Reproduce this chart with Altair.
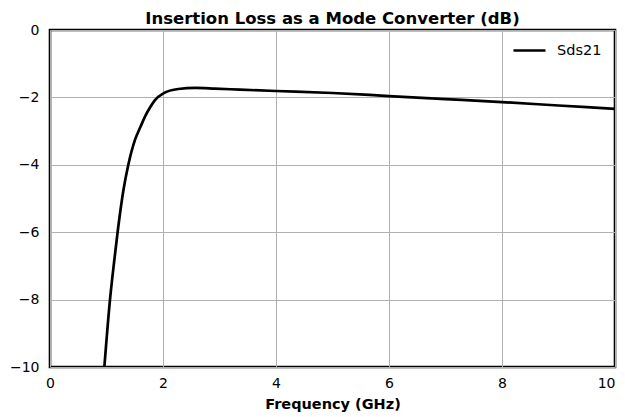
import altair as alt
import pandas as pd

freq = [0.962, 1.062, 1.13, 1.198, 1.3, 1.386, 1.504, 1.6, 1.681, 1.77, 1.858, 2.006,
        2.27, 2.57, 2.92, 3.36, 4.0, 5.0, 6.0, 7.0, 8.0, 9.0, 10.0]
sds21 = [-10.0, -8.0, -6.95, -5.98, -4.75, -4.0, -3.26, -2.88, -2.57, -2.3, -2.08, -1.88,
         -1.75, -1.72, -1.74, -1.77, -1.81, -1.87, -1.96, -2.05, -2.14, -2.24, -2.34]
series = ["Sds21"] * len(freq)

df = pd.DataFrame({"freq": freq, "val": sds21, "series": series})

chart = alt.Chart(df).mark_line(strokeWidth=2.7, interpolate="monotone", clip=True).encode(
    x=alt.X("freq:Q", scale=alt.Scale(domain=[0, 10], nice=False),
            axis=alt.Axis(title="Frequency (GHz)", values=[0, 2, 4, 6, 8, 10],
                          labelFlush=False,
                          labelAlign=alt.ExprRef("datum.value == 10 ? 'right' : 'center'"))),
    y=alt.Y("val:Q", scale=alt.Scale(domain=[-10, 0], nice=False),
            axis=alt.Axis(title=None, values=[-10, -8, -6, -4, -2, 0], labelPadding=11)),
    stroke=alt.Stroke("series:N", scale=alt.Scale(range=["black"]),
                      legend=alt.Legend(title=None, orient="none", legendX=462, legendY=3,
                                        symbolType="stroke",
                                        symbolStrokeWidth=2.7, symbolSize=1024,
                                        labelFontSize=14.5, labelFont="DejaVu Sans",
                                        labelOffset=10, labelColor="#000")),
).properties(
    width=565, height=337,
    title=alt.TitleParams("Insertion Loss as a Mode Converter (dB)", fontSize=16.5,
                          font="DejaVu Sans", fontWeight="bold", offset=-4, color="#000"),
    autosize=alt.AutoSizeParams(type="none"),
    padding={"left": 42, "top": 22, "right": 2, "bottom": 50},
).configure_view(
    stroke="black", strokeWidth=2.6
).configure_axis(
    grid=True, gridColor="#b0b0b0", gridWidth=1, domain=False,
    ticks=False, tickSize=0,
    labelFont="DejaVu Sans", labelFontSize=14, labelColor="#000", labelPadding=9,
    titleFont="DejaVu Sans", titleFontSize=14.5, titleFontWeight="bold", titleColor="#000",
    titlePadding=7,
)

chart.save("out.html", embed_options={"renderer": "svg", "actions": False})
